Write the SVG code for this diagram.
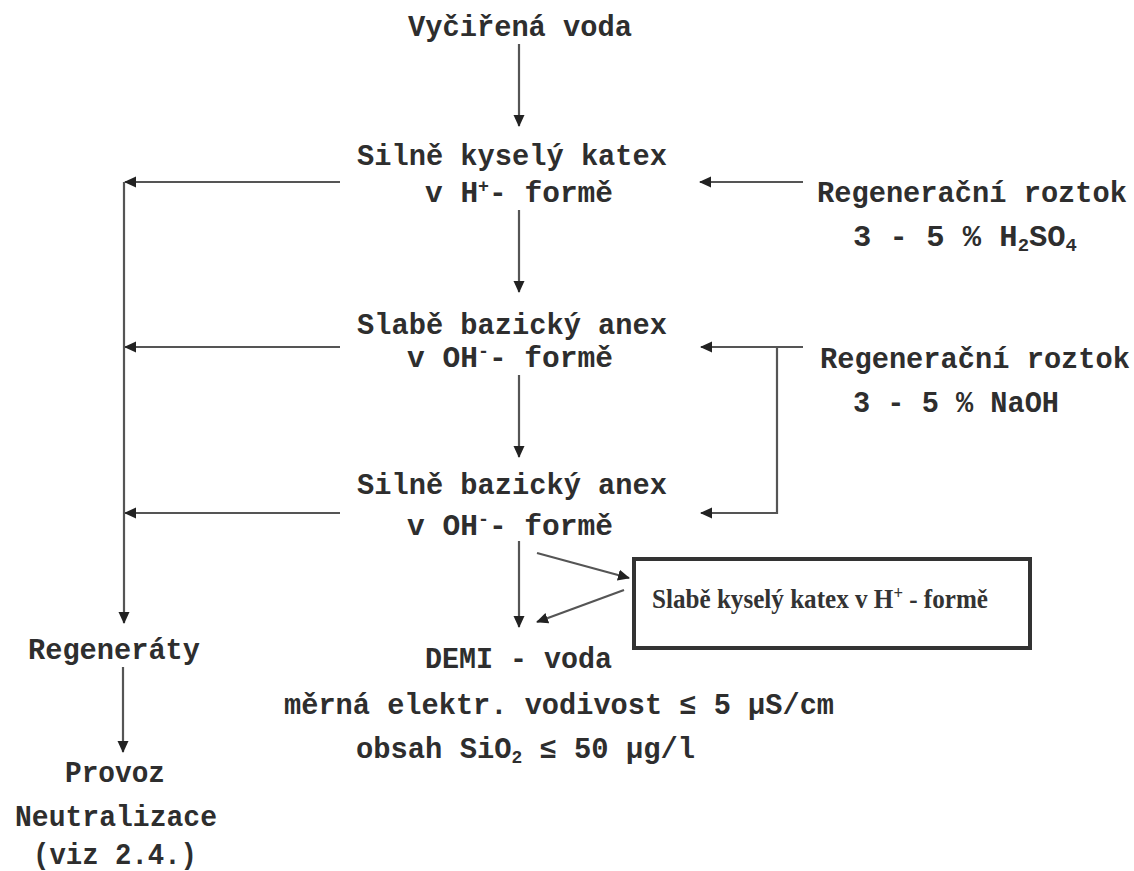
<svg xmlns="http://www.w3.org/2000/svg" width="1134" height="871" viewBox="0 0 1134 871">
<defs>
<style>
.t{font-family:"Liberation Mono","DejaVu Sans Mono",monospace;font-size:29px;font-weight:bold;fill:#2e2e2e;}
.bx{font-family:"Liberation Serif","DejaVu Serif",serif;font-size:27px;font-weight:bold;fill:#333;}
.ln{stroke:#555;stroke-width:2.2;fill:none;}
.sup{font-size:18px;}
</style>
<marker id="ah" markerUnits="userSpaceOnUse" markerWidth="12" markerHeight="12" viewBox="0 0 12 12" refX="11" refY="6" orient="auto">
<path d="M0,0.5 L12,6 L0,11.5 z" fill="#222"/>
</marker>
</defs>
<rect width="1134" height="871" fill="#fff"/>

<g id="connectors">
<line class="ln" x1="519" y1="44" x2="519" y2="126" marker-end="url(#ah)"/>
<line class="ln" x1="519" y1="210" x2="519" y2="292" marker-end="url(#ah)"/>
<line class="ln" x1="519" y1="375" x2="519" y2="457" marker-end="url(#ah)"/>
<line class="ln" x1="519" y1="541" x2="519" y2="627" marker-end="url(#ah)"/>
<line class="ln" x1="537" y1="553" x2="629" y2="578" marker-end="url(#ah)"/>
<line class="ln" x1="624" y1="590" x2="537" y2="622" marker-end="url(#ah)"/>
<line class="ln" x1="340" y1="182" x2="125" y2="182" marker-end="url(#ah)"/>
<line class="ln" x1="340" y1="347" x2="125" y2="347" marker-end="url(#ah)"/>
<line class="ln" x1="340" y1="513" x2="125" y2="513" marker-end="url(#ah)"/>
<line class="ln" x1="124" y1="182" x2="124" y2="623" marker-end="url(#ah)"/>
<line class="ln" x1="123" y1="667" x2="123" y2="752" marker-end="url(#ah)"/>
<line class="ln" x1="803" y1="182" x2="700" y2="182" marker-end="url(#ah)"/>
<polyline class="ln" points="803,347 777,347 777,513 701,513" marker-end="url(#ah)"/>
<line class="ln" x1="777" y1="347" x2="701" y2="347" marker-end="url(#ah)"/>
</g>

<g id="n-vycirena">
<text class="t" x="408" y="36" textLength="224" lengthAdjust="spacingAndGlyphs">Vyčiřená voda</text>
</g>
<g id="n-silne-kyselny">
<text class="t" x="357" y="165" textLength="310" lengthAdjust="spacingAndGlyphs">Silně kyselý katex</text>
<text class="t" x="425" y="202" textLength="188" lengthAdjust="spacingAndGlyphs">v H<tspan class="sup" dy="-10">+</tspan><tspan dy="10">- formě</tspan></text>
</g>
<g id="n-slabe-bazicky">
<text class="t" x="357" y="334" textLength="310" lengthAdjust="spacingAndGlyphs">Slabě bazický anex</text>
<text class="t" x="407" y="367" textLength="206" lengthAdjust="spacingAndGlyphs">v OH<tspan class="sup" dy="-10">-</tspan><tspan dy="10">- formě</tspan></text>
</g>
<g id="n-silne-bazicky">
<text class="t" x="357" y="494" textLength="310" lengthAdjust="spacingAndGlyphs">Silně bazický anex</text>
<text class="t" x="407" y="535" textLength="206" lengthAdjust="spacingAndGlyphs">v OH<tspan class="sup" dy="-10">-</tspan><tspan dy="10">- formě</tspan></text>
</g>
<g id="n-regen1">
<text class="t" x="817" y="202" textLength="310" lengthAdjust="spacingAndGlyphs">Regenerační roztok</text>
<text class="t" x="853" y="246" textLength="224" lengthAdjust="spacingAndGlyphs">3 - 5 % H<tspan class="sup" dy="5">2</tspan><tspan dy="-5">SO</tspan><tspan class="sup" dy="5">4</tspan></text>
</g>
<g id="n-regen2">
<text class="t" x="820" y="368" textLength="310" lengthAdjust="spacingAndGlyphs">Regenerační roztok</text>
<text class="t" x="853" y="412" textLength="206" lengthAdjust="spacingAndGlyphs">3 - 5 % NaOH</text>
</g>
<g id="n-slabe-kyselny-box">
<rect x="634" y="559" width="396" height="89" fill="#fff" stroke="#333" stroke-width="4"/>
<text class="bx" x="652" y="608" textLength="336" lengthAdjust="spacingAndGlyphs">Slabě kyselý katex v H<tspan class="sup" dy="-9">+</tspan><tspan dy="9"> - formě</tspan></text>
</g>
<g id="n-demi">
<text class="t" x="425" y="668" textLength="187" lengthAdjust="spacingAndGlyphs">DEMI - voda</text>
<text class="t" x="284" y="714" textLength="550" lengthAdjust="spacingAndGlyphs">měrná elektr. vodivost ≤ 5 µS/cm</text>
<text class="t" x="356" y="758" textLength="339" lengthAdjust="spacingAndGlyphs">obsah SiO<tspan class="sup" dy="5">2</tspan><tspan dy="-5"> ≤ 50 µg/l</tspan></text>
</g>
<g id="n-regeneraty">
<text class="t" x="28" y="659" textLength="172" lengthAdjust="spacingAndGlyphs">Regeneráty</text>
</g>
<g id="n-provoz">
<text class="t" x="65" y="782" textLength="100" lengthAdjust="spacingAndGlyphs">Provoz</text>
<text class="t" x="15" y="826" textLength="202" lengthAdjust="spacingAndGlyphs">Neutralizace</text>
<text class="t" x="33" y="864" textLength="164" lengthAdjust="spacingAndGlyphs">(viz 2.4.)</text>
</g>
</svg>
